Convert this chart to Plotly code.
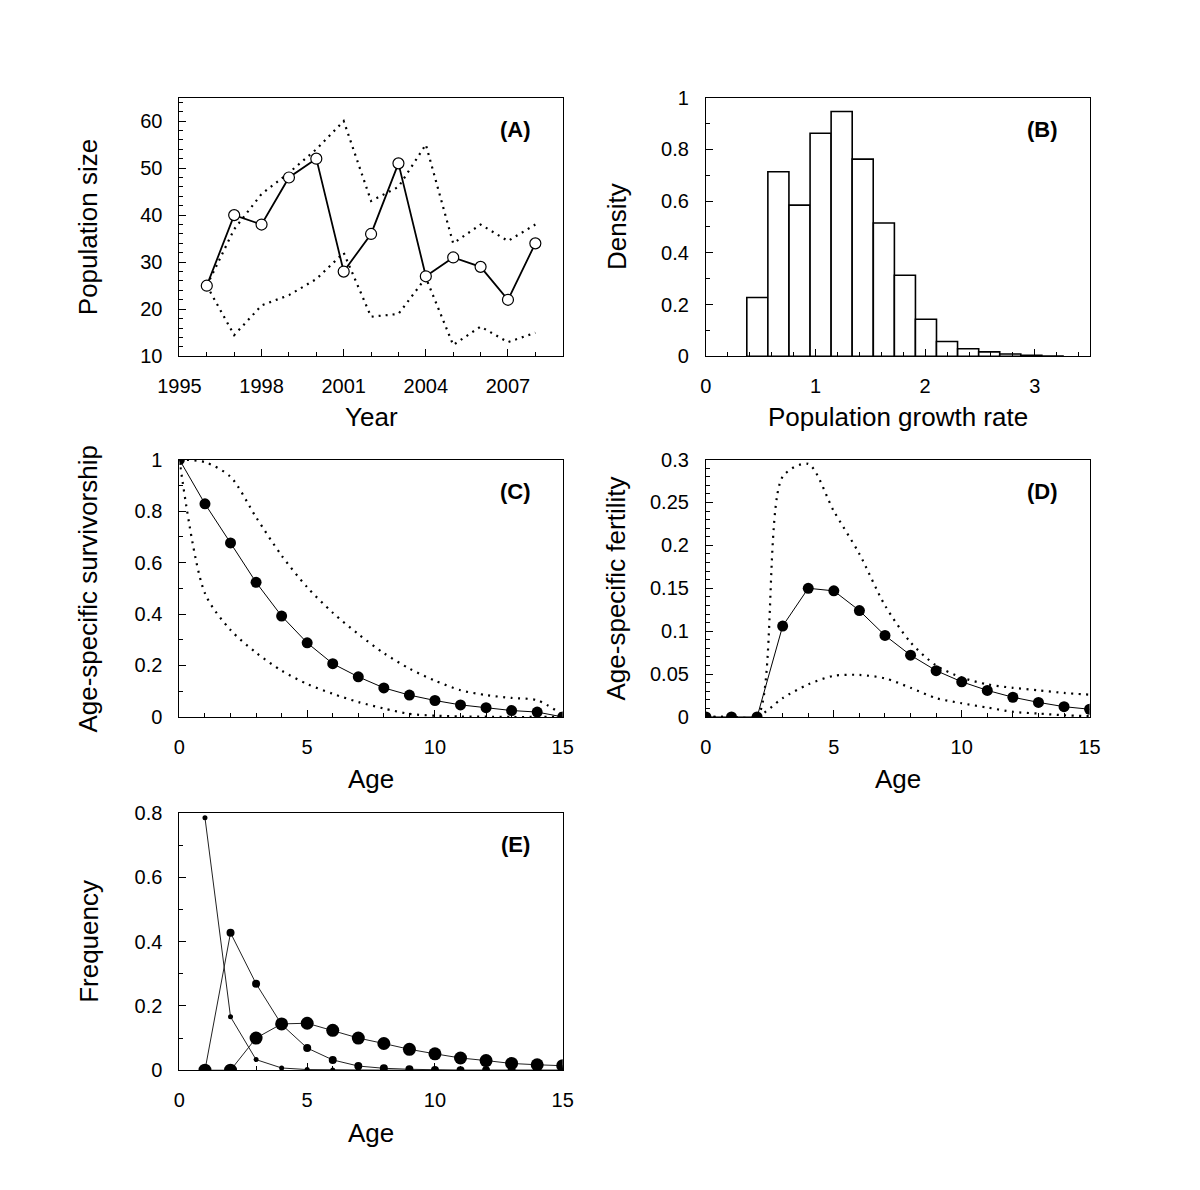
import plotly.graph_objects as go

# ---------------- data ----------------
# (A) population size
years = [1996, 1997, 1998, 1999, 2000, 2001, 2002, 2003, 2004, 2005, 2006, 2007, 2008]
pop_observed = [25, 40, 38, 48, 52, 28, 36, 51, 27, 31, 29, 22, 34]
pop_upper = [25, 37, 44.5, 49, 54, 60, 43, 46, 55, 34, 38, 34.5, 38]
pop_lower = [25, 14.5, 20.8, 23, 26.4, 32, 18.4, 19, 26.7, 12.4, 16.3, 13, 15]

# (B) histogram of population growth rate
growth_bin_left = [0.373, 0.565, 0.758, 0.950, 1.142, 1.334, 1.527, 1.719,
                   1.911, 2.103, 2.296, 2.488, 2.680, 2.872, 3.065]
growth_density = [0.227, 0.713, 0.584, 0.862, 0.946, 0.762, 0.515, 0.313,
                  0.143, 0.057, 0.029, 0.017, 0.009, 0.004, 0.001]
growth_bin_width = 0.1922

# (C) survivorship
ages = list(range(16))
surv_mean = [1, 0.828, 0.676, 0.523, 0.392, 0.288, 0.207, 0.156, 0.113, 0.085,
             0.064, 0.047, 0.036, 0.025, 0.019, 0]
surv_upper = [1, 0.99, 0.933, 0.776, 0.627, 0.504, 0.405, 0.322, 0.248, 0.188,
              0.141, 0.104, 0.085, 0.074, 0.065, 0.008]
surv_lower = [1, 0.48, 0.338, 0.25, 0.18, 0.128, 0.09, 0.058, 0.033, 0.012,
              0.005, 0.002, 0.001, 0, 0, 0]

# (D) fertility
fert_mean = [0, 0, 0, 0.106, 0.150, 0.147, 0.124, 0.095, 0.072, 0.054,
             0.041, 0.031, 0.023, 0.017, 0.012, 0.009]
fert_upper = [0, 0, 0, 0.28, 0.295, 0.24, 0.19, 0.13, 0.087, 0.06,
              0.046, 0.038, 0.034, 0.031, 0.028, 0.026]
fert_lower = [0, 0, 0, 0.022, 0.038, 0.048, 0.049, 0.045, 0.034, 0.022,
              0.016, 0.011, 0.006, 0.004, 0.002, 0.001]

# (E) frequency
ages_e = list(range(1, 16))
freq_small = [0.785, 0.166, 0.033, 0.007, 0.002, 0.001, 0, 0, 0, 0, 0, 0, 0, 0, 0]
freq_medium = [0, 0.427, 0.269, 0.142, 0.069, 0.032, 0.013, 0.006, 0.003, 0.001,
               0, 0, 0, 0, 0]
freq_large = [0, 0, 0.100, 0.144, 0.146, 0.124, 0.100, 0.083, 0.065, 0.051,
              0.038, 0.030, 0.021, 0.017, 0.014]

# ---------------- layout helpers ----------------
W, H = 1184, 1174
OFF = 8  # body margin of the html page
FONT = "Liberation Sans, Arial, sans-serif"


def px_x(p):
    return (p - OFF) / W


def px_y(p):
    return 1 - (p - OFF) / H


COLS = [(161.7, 556.0), (703.3, 1098.0)]
ROWS = [(88.0, 351.7), (457.0, 719.3), (817.0, 1079.3)]


def xdom(c):
    return [px_x(COLS[c][0]), px_x(COLS[c][1])]


def ydom(r):
    return [px_y(ROWS[r][1]), px_y(ROWS[r][0])]


def axis(dom, rng, dtick, tick0, minor_dtick, is_x, anchor):
    d = dict(
        domain=dom, range=rng, dtick=dtick, tick0=tick0, tickmode="linear",
        showline=True, mirror=True, linecolor="black", linewidth=1,
        ticks="inside", ticklen=7, tickwidth=1, tickcolor="black",
        showgrid=False, zeroline=False, anchor=anchor,
        tickfont=dict(size=20, family=FONT, color="black"),
        ticklabelstandoff=12 if is_x else 12,
        minor=dict(ticks="inside", ticklen=4, tickwidth=1, tickcolor="black",
                   dtick=minor_dtick, tick0=tick0, showgrid=False),
        fixedrange=True,
    )
    return d


fig = go.Figure()

dot_a = "2px,5px"
dot_c = "2px,5.5px"

# ---- A ----
fig.add_trace(go.Scatter(x=years, y=pop_upper, mode="lines",
                         line=dict(color="black", width=2.2, dash=dot_a),
                         xaxis="x", yaxis="y"))
fig.add_trace(go.Scatter(x=years, y=pop_lower, mode="lines",
                         line=dict(color="black", width=2.2, dash=dot_a),
                         xaxis="x", yaxis="y"))
fig.add_trace(go.Scatter(x=years, y=pop_observed, mode="lines+markers",
                         line=dict(color="black", width=1.8),
                         marker=dict(symbol="circle", size=11, color="white",
                                     line=dict(color="black", width=1.2)),
                         xaxis="x", yaxis="y"))

# ---- B ----
centers = [b + growth_bin_width / 2 for b in growth_bin_left]
fig.add_trace(go.Bar(x=centers, y=growth_density, width=growth_bin_width,
                     marker=dict(color="white", line=dict(color="black", width=1.6)),
                     xaxis="x2", yaxis="y2"))

# ---- C ----
for s in (surv_upper, surv_lower):
    fig.add_trace(go.Scatter(x=ages, y=s, mode="lines", line_shape="spline",
                             line=dict(color="black", width=2.2, dash=dot_c, smoothing=0.8),
                             xaxis="x3", yaxis="y3"))
fig.add_trace(go.Scatter(x=ages, y=surv_mean, mode="lines+markers",
                         line=dict(color="black", width=1),
                         marker=dict(size=11, color="black"),
                         xaxis="x3", yaxis="y3"))

# ---- D ----
for s in (fert_upper, fert_lower):
    fig.add_trace(go.Scatter(x=ages, y=s, mode="lines", line_shape="spline",
                             line=dict(color="black", width=2.2, dash=dot_c, smoothing=0.8),
                             xaxis="x4", yaxis="y4"))
fig.add_trace(go.Scatter(x=ages, y=fert_mean, mode="lines+markers",
                         line=dict(color="black", width=1),
                         marker=dict(size=11, color="black"),
                         xaxis="x4", yaxis="y4"))

# ---- E ----
for s, sz in ((freq_small, 5), (freq_medium, 8), (freq_large, 13)):
    fig.add_trace(go.Scatter(x=ages_e, y=s, mode="lines+markers",
                             line=dict(color="#222222", width=1),
                             marker=dict(size=sz, color="black"),
                             xaxis="x5", yaxis="y5"))

fig.update_layout(
    width=W, height=H, margin=dict(l=0, r=0, t=0, b=0),
    paper_bgcolor="white", plot_bgcolor="white", showlegend=False,
    font=dict(family=FONT, color="black"),
    xaxis=axis(xdom(0), [1995, 2009], 3, 1995, 1, True, "y"),
    yaxis=axis(ydom(0), [10, 65], 10, 10, 2, False, "x"),
    xaxis2=axis(xdom(1), [0, 3.5], 1, 0, 0.2, True, "y2"),
    yaxis2=axis(ydom(0), [0, 1], 0.2, 0, 0.1, False, "x2"),
    xaxis3=axis(xdom(0), [0, 15], 5, 0, 1, True, "y3"),
    yaxis3=axis(ydom(1), [0, 1], 0.2, 0, 0.1, False, "x3"),
    xaxis4=axis(xdom(1), [0, 15], 5, 0, 1, True, "y4"),
    yaxis4=axis(ydom(1), [0, 0.3], 0.05, 0, 0.01, False, "x4"),
    xaxis5=axis(xdom(0), [0, 15], 5, 0, 1, True, "y5"),
    yaxis5=axis(ydom(2), [0, 0.8], 0.2, 0, 0.1, False, "x5"),
)

ann = []


def title(text, x, y, angle=0):
    ann.append(dict(text=text, x=px_x(x), y=px_y(y), xref="paper", yref="paper",
                    showarrow=False, textangle=angle, xanchor="center", yanchor="middle",
                    font=dict(size=26, family=FONT, color="black")))


def midx(c):
    return (COLS[c][0] + COLS[c][1]) / 2


def midy(r):
    return (ROWS[r][0] + ROWS[r][1]) / 2


title("Year", midx(0), 414)
title("Population growth rate", midx(1), 414)
title("Age", midx(0), 783)
title("Age", midx(1), 783)
title("Age", midx(0), 1143)
title("Population size", 68, midy(0), -90)
title("Density", 612, midy(0), -90)
title("Age-specific survivorship", 68, midy(1), -90)
title("Age-specific fertility", 611, midy(1), -90)
title("Frequency", 68, midy(2), -90)

for lab, xr, yr in (("(A)", "x", "y"), ("(B)", "x2", "y2"), ("(C)", "x3", "y3"),
                    ("(D)", "x4", "y4"), ("(E)", "x5", "y5")):
    ann.append(dict(text="<b>%s</b>" % lab, x=0.877, y=0.876,
                    xref=xr + " domain", yref=yr + " domain", showarrow=False,
                    xanchor="center", yanchor="middle",
                    font=dict(size=22, family=FONT, color="black")))

fig.update_layout(annotations=ann)
fig.write_html("out.html")
